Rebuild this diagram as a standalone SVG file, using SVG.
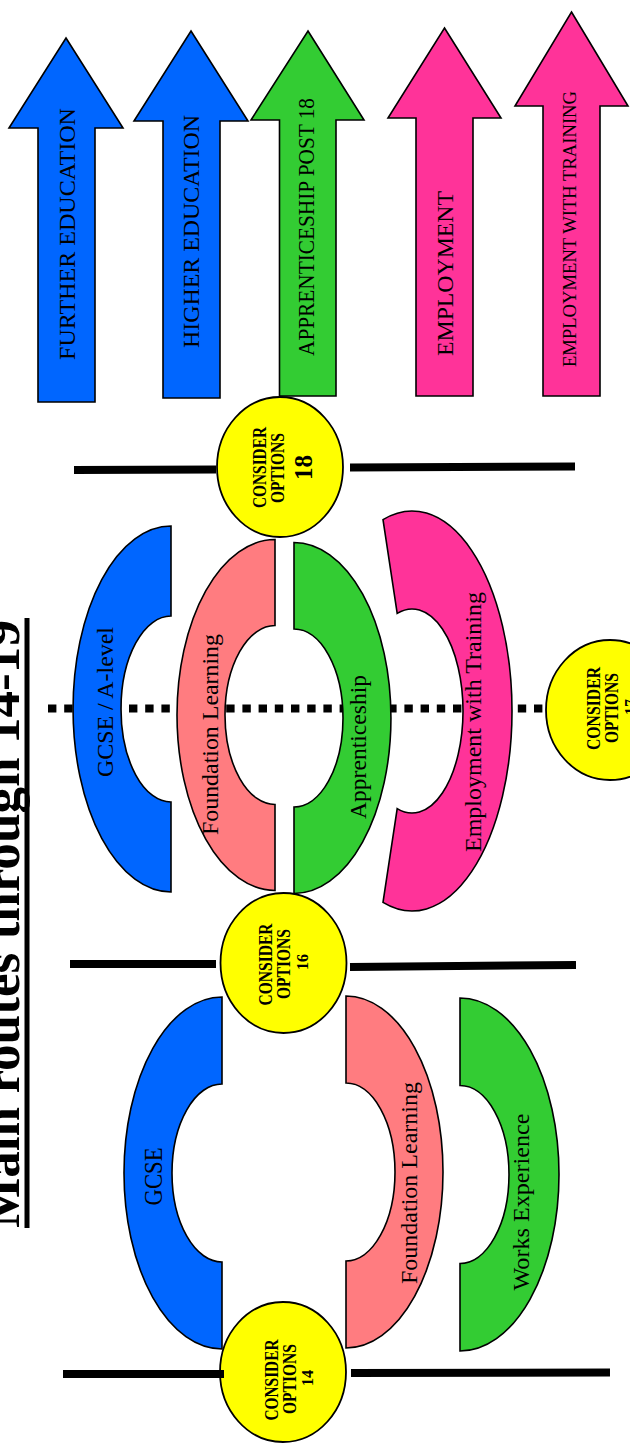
<svg xmlns="http://www.w3.org/2000/svg" width="630" height="1447" viewBox="0 0 630 1447">
<style>
.t{font-family:"Liberation Serif","Times New Roman",serif;fill:#000}
.lbl{font-size:23px}
.arw{font-size:24px}
.cons{font-size:19px;font-weight:bold;text-anchor:middle}
.num{font-size:17px}
.big{font-size:26px}
.blue{fill:#0066FF;stroke:#000;stroke-width:1.6}
.green{fill:#33CC33;stroke:#000;stroke-width:1.6}
.pink{fill:#FF3399;stroke:#000;stroke-width:1.6}
.salmon{fill:#FF7C80;stroke:#000;stroke-width:1.6}
.yel{fill:#FFFF00;stroke:#000;stroke-width:1.8}
.bar{stroke:#000;stroke-width:8;fill:none}
</style>
<rect width="630" height="1447" fill="#fff"/>

<g id="title">
<text class="t" font-weight="bold" font-size="53" transform="translate(19,1228) rotate(-90)" textLength="608" lengthAdjust="spacingAndGlyphs">Main routes through 14-19</text>
<line x1="27" y1="618" x2="27" y2="1228" stroke="#000" stroke-width="5"/>
</g>

<g id="connectors">
<line x1="48" y1="708.5" x2="546" y2="708.5" stroke="#000" stroke-width="8" stroke-dasharray="8.4 7.8"/>
</g>

<g id="arrow-further-education">
<polygon class="blue" points="66,38 123,128 95,128 95,402 38,402 38,128 9,128"/>
<text class="t arw" transform="translate(75,360) rotate(-90)" textLength="252" lengthAdjust="spacingAndGlyphs">FURTHER EDUCATION</text>
</g>
<g id="arrow-higher-education">
<polygon class="blue" points="191,31 248,121 220,121 220,398 163,398 163,121 134,121"/>
<text class="t arw" transform="translate(199,348) rotate(-90)" textLength="233" lengthAdjust="spacingAndGlyphs">HIGHER EDUCATION</text>
</g>
<g id="arrow-apprenticeship-post-18">
<polygon class="green" points="308,31 364,120 336,120 336,396 279.5,396 279.5,120 251,120"/>
<text class="t arw" transform="translate(314,356) rotate(-90)" textLength="258" lengthAdjust="spacingAndGlyphs">APPRENTICESHIP POST 18</text>
</g>
<g id="arrow-employment">
<polygon class="pink" points="444.5,28 501,118 473,118 473,396 416,396 416,118 388,118"/>
<text class="t arw" transform="translate(452.5,356) rotate(-90)" textLength="165" lengthAdjust="spacingAndGlyphs">EMPLOYMENT</text>
</g>
<g id="arrow-employment-with-training">
<polygon class="pink" points="571.5,12 628,106 600,106 600,396 543,396 543,106 515,106"/>
<text class="t" font-size="19" transform="translate(576,367) rotate(-90)" textLength="276" lengthAdjust="spacingAndGlyphs">EMPLOYMENT WITH TRAINING</text>
</g>

<g id="gcse-a-level">
<path class="blue" d="M171,526 A98,183 0 0 0 171,892 L171,802 A50,93 0 0 1 171,616 Z"/>
<text class="t lbl" transform="translate(112.5,777) rotate(-90)" textLength="150" lengthAdjust="spacingAndGlyphs">GCSE / A-level</text>
</g>
<g id="foundation-learning-16">
<path class="salmon" d="M275,539.5 A98,175.5 0 0 0 275,890.5 L275,804.5 A50,89.5 0 0 1 275,625.5 Z"/>
<text class="t lbl" transform="translate(217.5,835) rotate(-90)" textLength="201" lengthAdjust="spacingAndGlyphs">Foundation Learning</text>
</g>
<g id="apprenticeship">
<path class="green" d="M294,542.5 A97,175.5 0 0 1 294,893.5 L294,807 A49,89 0 0 0 294,629 Z"/>
<text class="t lbl" transform="translate(366,819) rotate(-90)" textLength="144" lengthAdjust="spacingAndGlyphs">Apprenticeship</text>
</g>
<g id="employment-with-training">
<path class="pink" d="M383,519.6 A100,200 0 1 1 383,902.4 L397.2,808.6 A51,102 0 1 0 397.2,613.4 Z"/>
<text class="t lbl" transform="translate(481,852) rotate(-90)" textLength="260" lengthAdjust="spacingAndGlyphs">Employment with Training</text>
</g>

<g id="gcse">
<path class="blue" d="M222,997 A98,176 0 0 0 222,1349 L222,1262 A50,89 0 0 1 222,1084 Z"/>
<text class="t" font-size="25" transform="translate(162,1205.5) rotate(-90)" textLength="58" lengthAdjust="spacingAndGlyphs">GCSE</text>
</g>
<g id="foundation-learning-14">
<path class="salmon" d="M346,996 A97,176 0 0 1 346,1348 L346,1261 A49,89 0 0 0 346,1083 Z"/>
<text class="t lbl" transform="translate(417,1284) rotate(-90)" textLength="202" lengthAdjust="spacingAndGlyphs">Foundation Learning</text>
</g>
<g id="works-experience">
<path class="green" d="M460,998 A99,176.5 0 0 1 460,1351 L460,1263.5 A49,89 0 0 0 460,1085.5 Z"/>
<text class="t lbl" transform="translate(529,1290.5) rotate(-90)" textLength="177" lengthAdjust="spacingAndGlyphs">Works Experience</text>
</g>

<g id="lines">
<line class="bar" x1="74" y1="470" x2="216" y2="469.5"/>
<line class="bar" x1="350" y1="467.5" x2="575" y2="466.5"/>
<line class="bar" x1="70" y1="964" x2="216" y2="964"/>
<line class="bar" x1="350" y1="967" x2="576" y2="965"/>
</g>

<g id="consider-options-18">
<ellipse class="yel" cx="280" cy="467" rx="63" ry="70"/>
<text class="t cons" transform="translate(266,467.5) rotate(-90)" textLength="81" lengthAdjust="spacingAndGlyphs">CONSIDER</text>
<text class="t cons" transform="translate(284,468) rotate(-90)" textLength="70" lengthAdjust="spacingAndGlyphs">OPTIONS</text>
<text class="t cons big" transform="translate(311.5,467.5) rotate(-90)" textLength="25" lengthAdjust="spacingAndGlyphs">18</text>
</g>
<g id="consider-options-17">
<ellipse class="yel" cx="610" cy="710" rx="64" ry="70"/>
<text class="t cons" transform="translate(600,708.5) rotate(-90)" textLength="83" lengthAdjust="spacingAndGlyphs">CONSIDER</text>
<text class="t cons" transform="translate(618,708) rotate(-90)" textLength="70" lengthAdjust="spacingAndGlyphs">OPTIONS</text>
<text class="t cons num" transform="translate(636,707) rotate(-90)" textLength="16" lengthAdjust="spacingAndGlyphs">17</text>
</g>
<g id="consider-options-16">
<ellipse class="yel" cx="283.5" cy="963" rx="63" ry="70"/>
<text class="t cons" transform="translate(272,964.5) rotate(-90)" textLength="82" lengthAdjust="spacingAndGlyphs">CONSIDER</text>
<text class="t cons" transform="translate(290,964) rotate(-90)" textLength="70" lengthAdjust="spacingAndGlyphs">OPTIONS</text>
<text class="t cons num" transform="translate(307.5,962) rotate(-90)" textLength="16" lengthAdjust="spacingAndGlyphs">16</text>
</g>
<g id="consider-options-14">
<ellipse class="yel" cx="283" cy="1372" rx="63" ry="70"/>
<text class="t cons" transform="translate(277.5,1380) rotate(-90)" textLength="81" lengthAdjust="spacingAndGlyphs">CONSIDER</text>
<text class="t cons" transform="translate(295.5,1379) rotate(-90)" textLength="70" lengthAdjust="spacingAndGlyphs">OPTIONS</text>
<text class="t cons num" transform="translate(313,1378) rotate(-90)" textLength="16" lengthAdjust="spacingAndGlyphs">14</text>
</g>
<g id="line-14">
<line class="bar" x1="63" y1="1374" x2="224" y2="1374"/>
<line class="bar" x1="351" y1="1373" x2="610" y2="1372.5"/>
</g>
</svg>
